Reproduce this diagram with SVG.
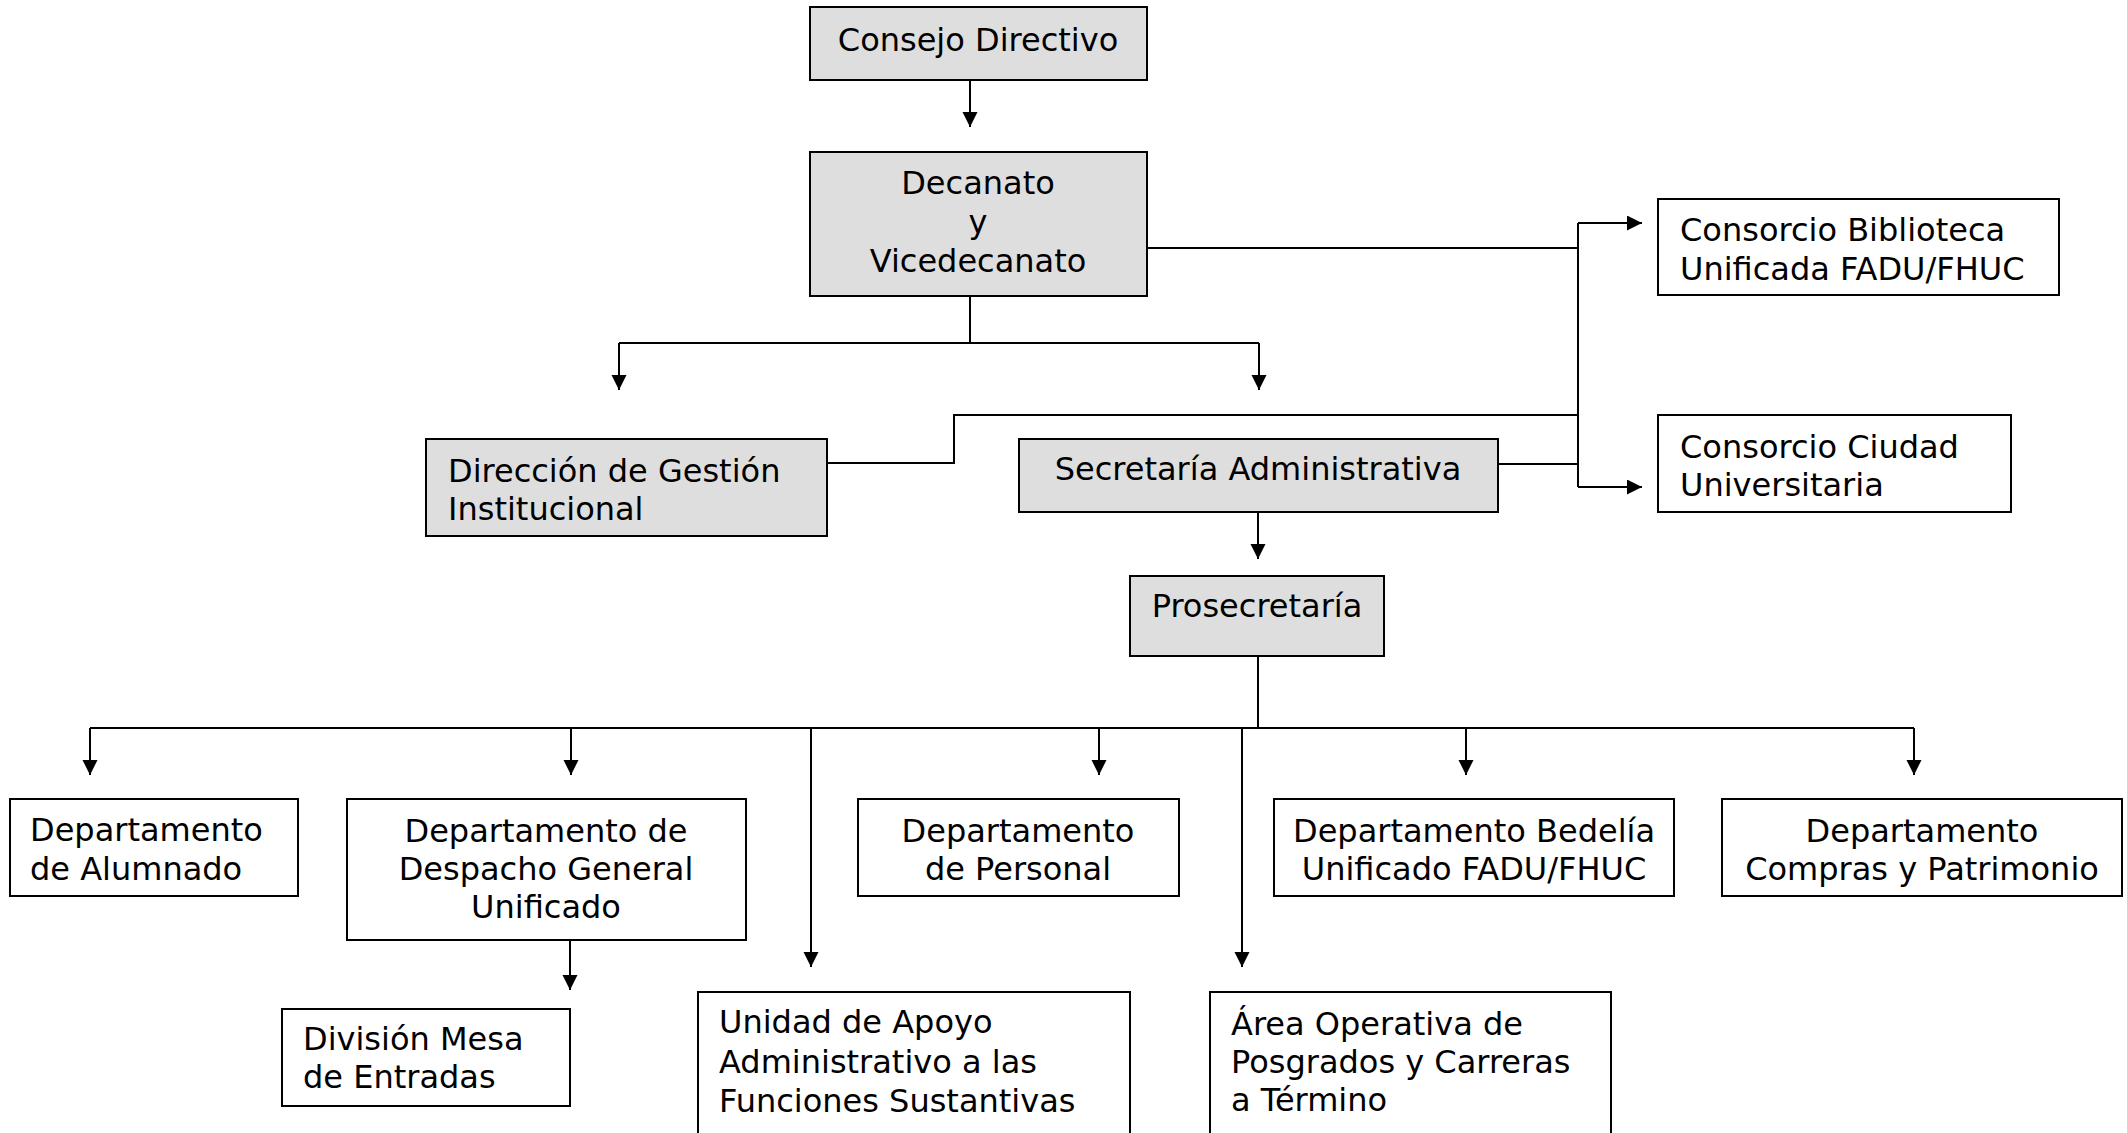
<svg xmlns="http://www.w3.org/2000/svg" width="2127" height="1133" viewBox="0 0 2127 1133">
<style>
.box{fill:#ffffff;stroke:#000;stroke-width:2}
.g{fill:#dedede}
text{font-family:"DejaVu Sans","Verdana",sans-serif;font-size:32px;fill:#000}
.c{text-anchor:middle}
.ln{fill:none;stroke:#000;stroke-width:2}
</style>
<defs>
<marker id="ah" markerUnits="userSpaceOnUse" markerWidth="16" markerHeight="16" refX="15" refY="7.5" orient="auto">
<path d="M0,0 L15,7.5 L0,15 z" fill="#000"/>
</marker>
</defs>
<rect width="2127" height="1133" fill="#fff"/>
<g id="connectors">
<path class="ln" d="M970,80 V127" marker-end="url(#ah)"/>
<path class="ln" d="M970,296 V343 M619,343 H1259"/>
<path class="ln" d="M619,343 V390" marker-end="url(#ah)"/>
<path class="ln" d="M1259,343 V390" marker-end="url(#ah)"/>
<path class="ln" d="M1147,248 H1578 M827,463 H954 V415 H1578 M1498,464 H1578 M1578,223 V487"/>
<path class="ln" d="M1578,223 H1642" marker-end="url(#ah)"/>
<path class="ln" d="M1578,487 H1642" marker-end="url(#ah)"/>
<path class="ln" d="M1258,512 V559" marker-end="url(#ah)"/>
<path class="ln" d="M1258,656 V728 M90,728 H1914"/>
<path class="ln" d="M90,728 V775" marker-end="url(#ah)"/>
<path class="ln" d="M571,728 V775" marker-end="url(#ah)"/>
<path class="ln" d="M811,728 V967" marker-end="url(#ah)"/>
<path class="ln" d="M1099,728 V775" marker-end="url(#ah)"/>
<path class="ln" d="M1242,728 V967" marker-end="url(#ah)"/>
<path class="ln" d="M1466,728 V775" marker-end="url(#ah)"/>
<path class="ln" d="M1914,728 V775" marker-end="url(#ah)"/>
<path class="ln" d="M570,940 V990" marker-end="url(#ah)"/>
</g>
<g id="consejo"><rect class="box g" x="810" y="7" width="337" height="73"/><text class="c" x="978" y="51">Consejo Directivo</text></g>
<g id="decanato"><rect class="box g" x="810" y="152" width="337" height="144"/><text class="c" x="978" y="194">Decanato</text><text class="c" x="978" y="233">y</text><text class="c" x="978" y="272">Vicedecanato</text></g>
<g id="biblioteca"><rect class="box" x="1658" y="199" width="401" height="96"/><text x="1680" y="241">Consorcio Biblioteca</text><text x="1680" y="280">Unificada FADU/FHUC</text></g>
<g id="ciudad"><rect class="box" x="1658" y="415" width="353" height="97"/><text x="1680" y="458">Consorcio Ciudad</text><text x="1680" y="496">Universitaria</text></g>
<g id="direccion"><rect class="box g" x="426" y="439" width="401" height="97"/><text x="448" y="482">Dirección de Gestión</text><text x="448" y="520">Institucional</text></g>
<g id="secretaria"><rect class="box g" x="1019" y="439" width="479" height="73"/><text class="c" x="1258" y="480">Secretaría Administrativa</text></g>
<g id="prosecretaria"><rect class="box g" x="1130" y="576" width="254" height="80"/><text class="c" x="1257" y="617">Prosecretaría</text></g>
<g id="alumnado"><rect class="box" x="10" y="799" width="288" height="97"/><text x="30" y="841">Departamento</text><text x="30" y="880">de Alumnado</text></g>
<g id="despacho"><rect class="box" x="347" y="799" width="399" height="141"/><text class="c" x="546" y="842">Departamento de</text><text class="c" x="546" y="880">Despacho General</text><text class="c" x="546" y="918">Unificado</text></g>
<g id="division"><rect class="box" x="282" y="1009" width="288" height="97"/><text x="303" y="1050">División Mesa</text><text x="303" y="1088">de Entradas</text></g>
<g id="unidad"><rect class="box" x="698" y="992" width="432" height="160"/><text x="719" y="1033">Unidad de Apoyo</text><text x="719" y="1073">Administrativo a las</text><text x="719" y="1112">Funciones Sustantivas</text></g>
<g id="personal"><rect class="box" x="858" y="799" width="321" height="97"/><text class="c" x="1018" y="842">Departamento</text><text class="c" x="1018" y="880">de Personal</text></g>
<g id="area"><rect class="box" x="1210" y="992" width="401" height="160"/><text x="1231" y="1035">Área Operativa de</text><text x="1231" y="1073">Posgrados y Carreras</text><text x="1231" y="1111">a Término</text></g>
<g id="bedelia"><rect class="box" x="1274" y="799" width="400" height="97"/><text class="c" x="1474" y="842">Departamento Bedelía</text><text class="c" x="1474" y="880">Unificado FADU/FHUC</text></g>
<g id="compras"><rect class="box" x="1722" y="799" width="400" height="97"/><text class="c" x="1922" y="842">Departamento</text><text class="c" x="1922" y="880">Compras y Patrimonio</text></g>
</svg>
